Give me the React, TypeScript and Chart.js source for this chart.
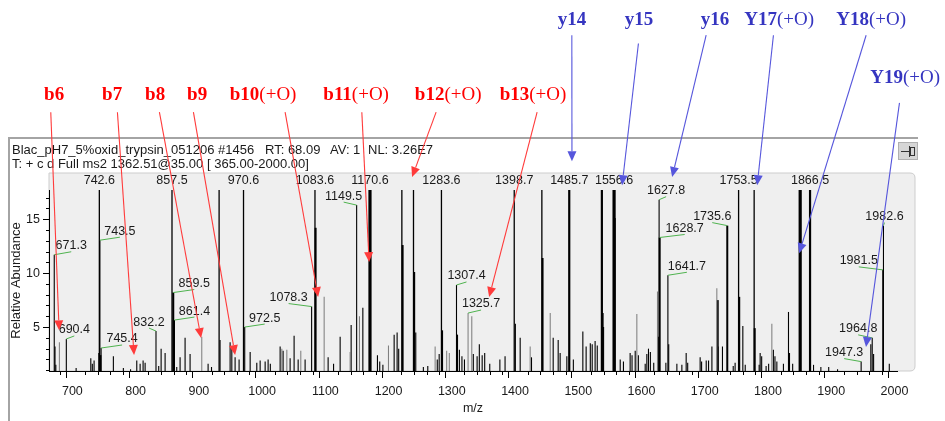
import React, { useEffect, useRef } from 'react';
import { Chart, registerables } from 'chart.js';

Chart.register(...registerables);

// ---------------- data ----------------
const mzRange = [663, 2004];
const abundanceRange = [0.93, 17.7];

// off-scale (clipped) peaks
const tallMz = [742.6, 857.5, 932.0, 970.6, 1083.6, 1221.0, 1239.4, 1283.6, 1398.7, 1442.4, 1753.5, 1778.1];
const tallInt = [62, 55, 40, 58, 60, 45, 48, 52, 50, 44, 47, 42];
const tallBoldMz = [1485.7, 1537.3, 1866.5];
const tallBoldInt = [70, 65, 66];
const tallHeavyMz = [1170.6, 1556.6, 1850.9];
const tallHeavyInt = [100, 88, 92];

// on-scale peaks (black, thin)
const peakMz = [
  671.3, 672.5, 673.8, 690.4, 705.9, 729.1, 731.5, 734.3, 741.8, 743.5, 745.4, 764.8, 780.6, 792.0,
  801.8, 807.1, 811.8, 815.0, 832.2, 836.5, 840.3, 846.6, 861.4, 865.0, 870.3, 878.2, 886.1, 914.6,
  920.0, 933.5, 949.4, 952.1, 957.3, 963.6, 972.5, 981.1, 991.6, 996.9, 1004.8, 1009.5, 1013.0,
  1028.5, 1033.2, 1044.3, 1050.6, 1057.0, 1068.0, 1078.3, 1104.4, 1113.0, 1123.4, 1140.8, 1149.5,
  1159.3, 1182.4, 1186.0, 1191.0, 1208.8, 1213.5, 1216.0, 1243.0, 1255.0, 1262.0, 1277.0, 1280.0,
  1307.4, 1309.0, 1312.0, 1316.0, 1320.0, 1334.0, 1340.0, 1343.5, 1348.0, 1352.0, 1360.0, 1376.0,
  1384.2, 1400.5, 1408.1, 1426.0, 1460.3, 1468.2, 1471.3, 1481.9, 1492.2, 1507.2, 1512.4, 1519.0,
  1522.0, 1526.6, 1530.0, 1540.0, 1566.3, 1571.4, 1582.0, 1585.0, 1590.0, 1595.0, 1605.8, 1608.4,
  1611.0, 1614.0, 1619.3, 1626.5, 1627.8, 1638.5, 1641.7, 1643.0, 1655.9, 1663.8, 1670.6, 1673.0,
  1692.7, 1695.0, 1702.3, 1706.0, 1711.3, 1721.0, 1728.0, 1745.0, 1748.0, 1760.2, 1764.0, 1786.0,
  1787.6, 1790.0, 1797.0, 1801.0, 1808.5, 1811.0, 1814.0, 1824.4, 1832.4, 1834.0, 1839.0, 1872.0,
  1883.6, 1896.0, 1910.0, 1947.3, 1962.6, 1964.8, 1967.0, 1981.5, 1982.6, 1991.8,
];
const peakInt = [
  11.7, 3.2, 1.5, 3.9, 1.2, 2.1, 1.6, 1.9, 2.6, 13.05, 3.06, 2.3, 1.2, 1.1,
  1.9, 1.6, 1.9, 1.7, 4.63, 1.4, 3.0, 2.6, 5.65, 1.3, 2.2, 4.0, 2.5, 1.6,
  1.3, 3.8, 3.6, 3.2, 2.2, 2.0, 5.0, 2.7, 1.7, 1.9, 1.8, 2.0, 1.6,
  3.2, 2.8, 2.1, 4.2, 2.0, 2.0, 6.9, 2.2, 1.6, 4.1, 5.2, 16.3,
  6.8, 2.4, 1.8, 1.5, 4.3, 4.5, 3.0, 4.5, 1.3, 1.4, 2.0, 2.5,
  8.9, 4.3, 2.9, 2.3, 2.0, 2.5, 2.3, 3.4, 2.4, 2.6, 1.6, 2.0,
  2.3, 5.3, 4.0, 2.2, 4.0, 3.8, 2.6, 2.3, 2.0, 4.6, 3.2, 3.5,
  3.4, 3.7, 3.3, 5.0, 2.0, 1.8, 2.6, 2.4, 2.8, 2.4, 1.6, 2.5,
  3.0, 2.7, 1.7, 4.1, 16.8, 1.7, 9.8, 3.4, 1.6, 1.5, 2.6, 1.7,
  2.2, 1.8, 1.9, 1.9, 3.2, 3.2, 3.2, 1.4, 1.7, 5.1, 1.5, 1.5,
  2.6, 2.3, 1.4, 1.6, 2.9, 2.3, 1.8, 1.6, 6.4, 2.6, 1.6, 1.5,
  1.3, 1.3, 1.1, 1.8, 3.4, 4.0, 2.5, 10.3, 14.4, 1.6,
];

// on-scale peaks drawn grey (lower-resolution profile peaks)
const greyMz = [679.4, 904.6, 1031.2, 1039.1, 1061.2, 1098.1, 1139.2, 1153.9, 1199.8, 1273.6, 1291.9, 1296.0,
  1325.7, 1331.6, 1423.9, 1455.6, 1592.6, 1625.2, 1719.1, 1806.1];
const greyInt = [3.6, 4.1, 3.0, 2.9, 2.8, 7.8, 2.7, 6.0, 3.3, 3.2, 2.8, 2.6,
  6.3, 6.0, 3.2, 6.3, 6.2, 8.3, 8.6, 5.3];

// on-scale wide peaks
const wideMz = [744.2, 859.5, 1084.6, 1222.2, 1240.5, 1284.6, 1443.5, 1538.5, 1557.6, 1628.7, 1720.5, 1735.6, 1754.5, 1779.0];
const wideInt = [2.4, 8.2, 14.2, 12.6, 10.1, 4.7, 11.4, 6.3, 15.1, 13.3, 7.5, 14.4, 7.8, 4.9];

// peak m/z labels
const labelledMz = [742.6, 857.5, 970.6, 1083.6, 1170.6, 1283.6, 1398.7, 1485.7, 1556.6, 1753.5, 1866.5,
  671.3, 690.4, 743.5, 745.4, 832.2, 859.5, 861.4, 972.5, 1078.3, 1149.5, 1307.4, 1325.7,
  1627.8, 1628.7, 1641.7, 1735.6, 1947.3, 1964.8, 1981.5, 1982.6];

// fragment ion annotations (arrow tip / tail / label, in m/z and abundance units)
const ionNames = ['b6', 'b7', 'b8', 'b9', 'b10(+O)', 'b11(+O)', 'b12(+O)', 'b13(+O)',
  'y14', 'y15', 'y16', 'Y17(+O)', 'Y18(+O)', 'Y19(+O)'];
const ionTipMz = [679.0, 797.5, 903.5, 957.3, 1088.6, 1169.2, 1237.2, 1359.0,
  1490.0, 1569.3, 1648.4, 1782.9, 1849.3, 1955.0];
const ionTipInt = [4.7, 2.41, 3.98, 2.41, 7.78, 11.02, 18.9, 7.78,
  20.37, 18.15, 18.9, 18.15, 11.85, 3.15];
const ionTailMz = [665.8, 771.2, 837.6, 891.4, 1036.4, 1157.7, 1275.2, 1434.9,
  1489.8, 1595.1, 1702.2, 1808.6, 1955.2, 2007.9];
const ionTailInt = [24.91, 24.91, 24.91, 24.91, 24.91, 24.91, 24.91, 24.91,
  32.04, 31.27, 32.04, 32.04, 32.04, 25.77];
const ionLabelMz = [671.1, 762.8, 830.8, 897.2, 1001.6, 1148.7, 1294.2, 1428.4,
  1490.0, 1596.0, 1716.3, 1817.5, 1963.0, 2016.9];
const ionLabelInt = [26.48, 26.48, 26.48, 26.48, 26.48, 26.48, 26.48, 26.48,
  33.43, 33.43, 33.43, 33.43, 33.43, 28.06];

// ---------------- layout / style (not data) ----------------
const labelDx: Record<string, number> = {
  '671.3': 17, '690.4': 8, '743.5': 20, '745.4': 21, '832.2': -7, '859.5': 21, '861.4': 20,
  '972.5': 20, '1078.3': -23, '1149.5': -13, '1307.4': 10, '1325.7': 13, '1627.8': 7,
  '1628.7': 25, '1641.7': 19, '1735.6': -15, '1947.3': -17, '1964.8': -14, '1981.5': -24, '1982.6': 1,
};
const SANS = '"Liberation Sans", Arial, sans-serif';
const SERIF = '"Liberation Serif", "Times New Roman", serif';

const pts = (xs: number[], ys: number[]) => xs.map((x, i) => ({ x, y: ys[i] }));

const allPeaks: { x: number; y: number }[] = [
  ...pts(tallMz, tallInt), ...pts(tallBoldMz, tallBoldInt), ...pts(tallHeavyMz, tallHeavyInt),
  ...pts(peakMz, peakInt), ...pts(greyMz, greyInt), ...pts(wideMz, wideInt),
];

function findIntensity(mz: number) {
  let best = 0;
  for (const p of allPeaks) if (Math.abs(p.x - mz) < 0.05) best = Math.max(best, p.y);
  return best;
}

const backgroundPlugin = {
  id: 'spectrumFrame',
  beforeDraw(chart: any) {
    const { ctx, chartArea } = chart;
    ctx.save();
    ctx.fillStyle = '#ffffff';
    ctx.fillRect(0, 0, chart.width, chart.height);
    // window frame
    ctx.strokeStyle = '#a4a4a4';
    ctx.lineWidth = 2;
    ctx.beginPath();
    ctx.moveTo(9, 421);
    ctx.lineTo(9, 138);
    ctx.lineTo(918, 138);
    ctx.stroke();
    // pin button
    ctx.fillStyle = '#d6d6d6';
    ctx.fillRect(898, 142, 20, 18);
    ctx.strokeStyle = '#b0b0b0';
    ctx.lineWidth = 1;
    ctx.strokeRect(898.5, 142.5, 19, 17);
    ctx.strokeStyle = '#333';
    ctx.beginPath();
    ctx.moveTo(901, 151.5); ctx.lineTo(909, 151.5);
    ctx.moveTo(909.5, 146); ctx.lineTo(909.5, 157);
    ctx.stroke();
    ctx.strokeRect(910.5, 147.5, 4, 8);
    // header text
    ctx.fillStyle = '#1a1a1a';
    ctx.font = '13px ' + SANS;
    ctx.textBaseline = 'middle';
    ctx.textAlign = 'left';
    ctx.fillText('Blac_pH7_5%oxid_trypsin_051206 #1456', 12, 150);
    ctx.fillText('RT: 68.09', 265, 150);
    ctx.fillText('AV: 1', 330, 150);
    ctx.fillText('NL: 3.26E7', 368, 150);
    ctx.fillText('T: + c d Full ms2 1362.51@35.00 [ 365.00-2000.00]', 12, 164);
    // grey plot panel
    const left = chartArea.left, right = 915, top = 173, bottom = chartArea.bottom;
    ctx.fillStyle = '#efefef';
    ctx.strokeStyle = '#cdcdcd';
    ctx.beginPath();
    ctx.moveTo(left, top);
    ctx.lineTo(right - 5, top);
    ctx.quadraticCurveTo(right, top, right, top + 5);
    ctx.lineTo(right, bottom - 5);
    ctx.quadraticCurveTo(right, bottom, right - 5, bottom);
    ctx.lineTo(left, bottom);
    ctx.closePath();
    ctx.fill();
    ctx.stroke();
    ctx.restore();
  },
  afterDraw(chart: any) {
    const { ctx, chartArea, scales } = chart;
    const xs = scales.x, ys = scales.y;
    ctx.save();
    // minor ticks
    ctx.strokeStyle = '#000';
    ctx.lineWidth = 1;
    ctx.beginPath();
    for (const t of ys.ticks) {
      if (t.value % 5 === 0) continue;
      const py = Math.round(ys.getPixelForValue(t.value)) + 0.5;
      ctx.moveTo(chartArea.left - 3, py);
      ctx.lineTo(chartArea.left, py);
    }
    for (const t of xs.ticks) {
      if (t.value % 100 === 0) continue;
      const px = Math.round(xs.getPixelForValue(t.value)) + 0.5;
      ctx.moveTo(px, chartArea.bottom);
      ctx.lineTo(px, chartArea.bottom + 4);
    }
    ctx.stroke();

    // peak labels
    ctx.font = '12.5px ' + SANS;
    ctx.textBaseline = 'middle';
    ctx.textAlign = 'center';
    for (const mz of labelledMz) {
      const txt = mz.toFixed(1);
      const inten = findIntensity(mz);
      const px = xs.getPixelForValue(mz);
      if (inten >= ys.max) {
        ctx.fillStyle = '#1a1a1a';
        ctx.fillText(txt, px, chartArea.top - 9);
      } else {
        const py = ys.getPixelForValue(inten);
        const dx = labelDx[txt] ?? 0;
        ctx.strokeStyle = '#4fb34f';
        ctx.beginPath();
        ctx.moveTo(px, py);
        ctx.lineTo(px + dx, py - 3);
        ctx.stroke();
        ctx.fillStyle = '#1a1a1a';
        ctx.fillText(txt, px + dx, py - 9);
      }
    }

    // fragment ion arrows
    for (let i = 0; i < ionNames.length; i++) {
      const isB = ionNames[i].startsWith('b');
      const lineColor = isB ? '#ff3b3b' : '#5656dc';
      const textColor = isB ? '#ff0000' : '#3535c0';
      const tx = xs.getPixelForValue(ionTipMz[i]);
      const ty = ys.getPixelForValue(ionTipInt[i]);
      const sx = xs.getPixelForValue(ionTailMz[i]);
      const sy = ys.getPixelForValue(ionTailInt[i]);
      const ang = Math.atan2(ty - sy, tx - sx);
      const len = 10, hw = 4.5;
      const bx = tx - len * Math.cos(ang), by = ty - len * Math.sin(ang);
      ctx.strokeStyle = lineColor;
      ctx.lineWidth = 1.1;
      ctx.beginPath();
      ctx.moveTo(sx, sy);
      ctx.lineTo(bx, by);
      ctx.stroke();
      ctx.fillStyle = lineColor;
      ctx.beginPath();
      ctx.moveTo(tx, ty);
      ctx.lineTo(bx + hw * Math.sin(ang), by - hw * Math.cos(ang));
      ctx.lineTo(bx - hw * Math.sin(ang), by + hw * Math.cos(ang));
      ctx.closePath();
      ctx.fill();

      // label: ion name bold, modification regular
      const name = ionNames[i];
      const m = name.match(/^([A-Za-z]\d+)(.*)$/);
      const head = m ? m[1] : name;
      const tail = m ? m[2] : '';
      ctx.font = 'bold 19px ' + SERIF;
      const w1 = ctx.measureText(head).width;
      ctx.font = '19px ' + SERIF;
      const w2 = ctx.measureText(tail).width;
      const cx = xs.getPixelForValue(ionLabelMz[i]);
      const cy = ys.getPixelForValue(ionLabelInt[i]);
      let x0 = cx - (w1 + w2) / 2;
      ctx.textAlign = 'left';
      ctx.textBaseline = 'middle';
      ctx.fillStyle = textColor;
      ctx.font = 'bold 19px ' + SERIF;
      ctx.fillText(head, x0, cy);
      ctx.font = '19px ' + SERIF;
      ctx.fillText(tail, x0 + w1, cy);
    }
    ctx.restore();
  },
};

function barSet(xs: number[], ys: number[], color: string, thickness: number) {
  return {
    data: pts(xs, ys),
    backgroundColor: color,
    borderWidth: 0,
    barThickness: thickness,
    grouped: false,
    inflateAmount: 0,
    clip: 0,
  };
}

export default function App() {
  const ref = useRef<HTMLCanvasElement | null>(null);
  useEffect(() => {
    if (!ref.current) return;
    const chart = new Chart(ref.current, {
      type: 'bar',
      data: {
        datasets: [
          barSet(greyMz, greyInt, '#7a7a7a', 1),
          barSet(peakMz, peakInt, '#000000', 1.1),
          barSet(wideMz, wideInt, '#000000', 2),
          barSet(tallMz, tallInt, '#000000', 1.3),
          barSet(tallBoldMz, tallBoldInt, '#000000', 2.2),
          barSet(tallHeavyMz, tallHeavyInt, '#000000', 3.2),
        ] as any,
      },
      options: {
        animation: false,
        responsive: false,
        devicePixelRatio: 1,
        layout: { padding: { left: 0, right: 48, top: 190, bottom: 0 } },
        plugins: { legend: { display: false }, tooltip: { enabled: false } },
        scales: {
          x: {
            type: 'linear',
            min: mzRange[0],
            max: mzRange[1],
            offset: false,
            afterFit: (s: any) => { s.height = 50; },
            ticks: {
              stepSize: 20,
              includeBounds: false,
              autoSkip: false,
              maxRotation: 0,
              padding: 6,
              color: '#1a1a1a',
              font: { family: SANS, size: 12.5 },
              callback: (v: any) => (Number(v) % 100 === 0 ? String(v) : ''),
            },
            grid: {
              display: true,
              drawOnChartArea: false,
              drawTicks: true,
              tickLength: 7,
              tickColor: (c: any) => (c.tick && c.tick.value % 100 === 0 ? '#000' : 'rgba(0,0,0,0)'),
            },
            border: { display: true, color: '#000', width: 1 },
            title: { display: true, text: 'm/z', color: '#1a1a1a', font: { family: SANS, size: 12.5 }, padding: { top: 0, bottom: 5 } },
          },
          y: {
            min: abundanceRange[0],
            max: abundanceRange[1],
            afterFit: (s: any) => { s.width = 49; },
            ticks: {
              stepSize: 1,
              includeBounds: false,
              autoSkip: false,
              padding: 3,
              color: '#1a1a1a',
              font: { family: SANS, size: 12.5 },
              callback: (v: any) => (Number(v) % 5 === 0 ? String(v) : ''),
            },
            grid: {
              display: true,
              drawOnChartArea: false,
              drawTicks: true,
              tickLength: 6,
              tickColor: (c: any) => (c.tick && c.tick.value % 5 === 0 ? '#000' : 'rgba(0,0,0,0)'),
            },
            border: { display: true, color: '#000', width: 1 },
            title: { display: true, text: 'Relative Abundance', color: '#1a1a1a', font: { family: SANS, size: 13 }, padding: { top: 9, bottom: 0 } },
          },
        },
      } as any,
      plugins: [backgroundPlugin],
    });
    return () => chart.destroy();
  }, []);
  return (
    <div style={{ position: 'fixed', left: 0, top: 0, width: 945, height: 421, background: '#fff' }}>
      <canvas ref={ref} width={945} height={421} style={{ display: 'block', width: 945, height: 421 }} />
    </div>
  );
}
